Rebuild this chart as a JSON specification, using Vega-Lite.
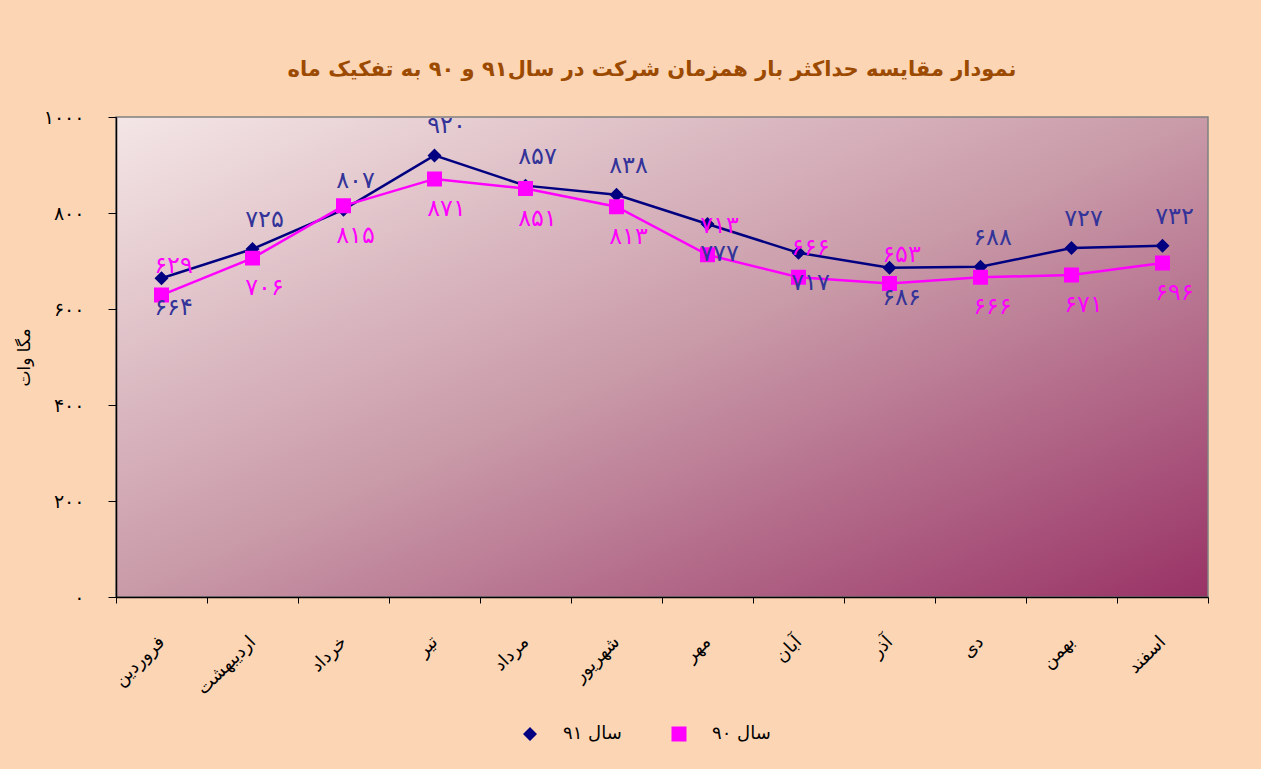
{
  "$schema": "https://vega.github.io/schema/vega-lite/v6.json",
  "width": 1092,
  "height": 480,
  "autosize": {"type": "none"},
  "padding": {"left": 116, "top": 117, "right": 53, "bottom": 172},
  "background": "#FCD5B4",
  "title": {
    "text": "نمودار مقایسه حداکثر بار همزمان شرکت در سال۹۱ و ۹۰ به تفکیک ماه",
    "font": "DejaVu Sans",
    "fontSize": 21,
    "fontWeight": "bold",
    "color": "#9C4A00",
    "anchor": "middle",
    "offset": 28,
    "dx": -10
  },
  "config": {
    "view": {
      "fill": {"gradient": "linear", "x1": 0, "y1": 0, "x2": 1, "y2": 1,
        "stops": [{"offset": 0, "color": "#F4E6E6"}, {"offset": 0.5, "color": "#C99AA8"}, {"offset": 1, "color": "#993366"}]},
      "stroke": "#808080",
      "strokeWidth": 1.5
    },
    "axis": {"labelFont": "DejaVu Sans", "titleFont": "DejaVu Sans", "domainColor": "#000000", "tickColor": "#000000", "labelColor": "#000000", "grid": false},
    "legend": {"title": null, "orient": "none", "legendX": 405, "legendY": 608, "direction": "horizontal", "labelFont": "DejaVu Sans", "labelFontSize": 18, "labelColor": "#000000", "symbolSize": 196, "labelOffset": 24, "columnPadding": 31, "symbolStrokeWidth": 2}
  },
  "data": {"values": [
    {"month": "فروردین", "series": "سال ۹۱", "value": 664, "label": "۶۶۴", "swap": true},
    {"month": "اردیبهشت", "series": "سال ۹۱", "value": 725, "label": "۷۲۵", "swap": false},
    {"month": "خرداد", "series": "سال ۹۱", "value": 807, "label": "۸۰۷", "swap": false},
    {"month": "تیر", "series": "سال ۹۱", "value": 920, "label": "۹۲۰", "swap": false},
    {"month": "مرداد", "series": "سال ۹۱", "value": 857, "label": "۸۵۷", "swap": false},
    {"month": "شهریور", "series": "سال ۹۱", "value": 838, "label": "۸۳۸", "swap": false},
    {"month": "مهر", "series": "سال ۹۱", "value": 777, "label": "۷۷۷", "swap": true},
    {"month": "آبان", "series": "سال ۹۱", "value": 717, "label": "۷۱۷", "swap": true},
    {"month": "آذر", "series": "سال ۹۱", "value": 686, "label": "۶۸۶", "swap": true},
    {"month": "دی", "series": "سال ۹۱", "value": 688, "label": "۶۸۸", "swap": false},
    {"month": "بهمن", "series": "سال ۹۱", "value": 727, "label": "۷۲۷", "swap": false},
    {"month": "اسفند", "series": "سال ۹۱", "value": 732, "label": "۷۳۲", "swap": false},
    {"month": "فروردین", "series": "سال ۹۰", "value": 629, "label": "۶۲۹", "swap": true},
    {"month": "اردیبهشت", "series": "سال ۹۰", "value": 706, "label": "۷۰۶", "swap": false},
    {"month": "خرداد", "series": "سال ۹۰", "value": 815, "label": "۸۱۵", "swap": false},
    {"month": "تیر", "series": "سال ۹۰", "value": 871, "label": "۸۷۱", "swap": false},
    {"month": "مرداد", "series": "سال ۹۰", "value": 851, "label": "۸۵۱", "swap": false},
    {"month": "شهریور", "series": "سال ۹۰", "value": 813, "label": "۸۱۳", "swap": false},
    {"month": "مهر", "series": "سال ۹۰", "value": 713, "label": "۷۱۳", "swap": true},
    {"month": "آبان", "series": "سال ۹۰", "value": 666, "label": "۶۶۶", "swap": true},
    {"month": "آذر", "series": "سال ۹۰", "value": 653, "label": "۶۵۳", "swap": true},
    {"month": "دی", "series": "سال ۹۰", "value": 666, "label": "۶۶۶", "swap": false},
    {"month": "بهمن", "series": "سال ۹۰", "value": 671, "label": "۶۷۱", "swap": false},
    {"month": "اسفند", "series": "سال ۹۰", "value": 696, "label": "۶۹۶", "swap": false}
  ]},
  "encoding": {
    "x": {
      "field": "month", "type": "nominal", "sort": null,
      "scale": {"type": "band", "paddingInner": 0, "paddingOuter": 0},
      "axis": {"title": null, "labelAngle": -45, "labelFontSize": 18, "labelPadding": 36, "tickBand": "extent", "tickSize": 6, "domainWidth": 1.5, "labelAlign": "right", "labelBaseline": "middle"}
    },
    "y": {
      "field": "value", "type": "quantitative",
      "scale": {"domain": [0, 1000], "nice": false, "zero": true},
      "axis": {"title": "مگا وات", "titleFontSize": 17, "titleFontWeight": "normal", "titleColor": "#000000", "titlePadding": 10, "values": [0, 200, 400, 600, 800, 1000], "tickSize": 8, "labelPadding": 24, "labelFontSize": 19, "domainWidth": 1.5,
        "labelExpr": "replace(replace(replace(replace(replace(replace(datum.value + '', /0/g, '۰'), /1/g, '۱'), /2/g, '۲'), /4/g, '۴'), /6/g, '۶'), /8/g, '۸')"}
    }
  },
  "layer": [
    {
      "mark": {"type": "line", "strokeWidth": 2.5},
      "encoding": {
        "detail": {"field": "series"},
        "color": {"condition": {"test": "datum.series == 'سال ۹۱'", "value": "#000080"}, "value": "#FF00FF"}
      }
    },
    {
      "mark": {"type": "point", "filled": true, "opacity": 1, "size": 196},
      "encoding": {
        "color": {"field": "series", "type": "nominal", "scale": {"domain": ["سال ۹۱", "سال ۹۰"], "range": ["#000080", "#FF00FF"]},
          "legend": {"encode": {"symbols": {
              "stroke": {"condition": {"test": "datum.value == 'سال ۹۱'", "value": "#000080"}, "value": "#FF00FF"},
              "strokeWidth": {"value": 2},
              "size": {"value": 196},
              "opacity": {"value": 1}}}}},
        "shape": {"field": "series", "type": "nominal", "scale": {"domain": ["سال ۹۱", "سال ۹۰"], "range": ["M-3.6,0H3.6M0,-1L1,0L0,1L-1,0Z", "M-3.6,0H3.6M-1.07,-1.07H1.07V1.07H-1.07Z"]},
          "legend": {"encode": {"symbols": {
              "stroke": {"condition": {"test": "datum.value == 'سال ۹۱'", "value": "#000080"}, "value": "#FF00FF"},
              "strokeWidth": {"value": 2},
              "size": {"value": 196},
              "opacity": {"value": 1}}}}}
      }
    },
    {
      "transform": [{"filter": "(datum.series == 'سال ۹۱') != datum.swap"}],
      "mark": {"type": "text", "font": "DejaVu Sans", "fontSize": 24, "dy": -29, "dx": 12, "baseline": "middle"},
      "encoding": {
        "text": {"field": "label"},
        "color": {"condition": {"test": "datum.series == 'سال ۹۱'", "value": "#333399"}, "value": "#FF00FF"}
      }
    },
    {
      "transform": [{"filter": "(datum.series == 'سال ۹۱') == datum.swap"}],
      "mark": {"type": "text", "font": "DejaVu Sans", "fontSize": 24, "dy": 30, "dx": 12, "baseline": "middle"},
      "encoding": {
        "text": {"field": "label"},
        "color": {"condition": {"test": "datum.series == 'سال ۹۱'", "value": "#333399"}, "value": "#FF00FF"}
      }
    }
  ]
}
